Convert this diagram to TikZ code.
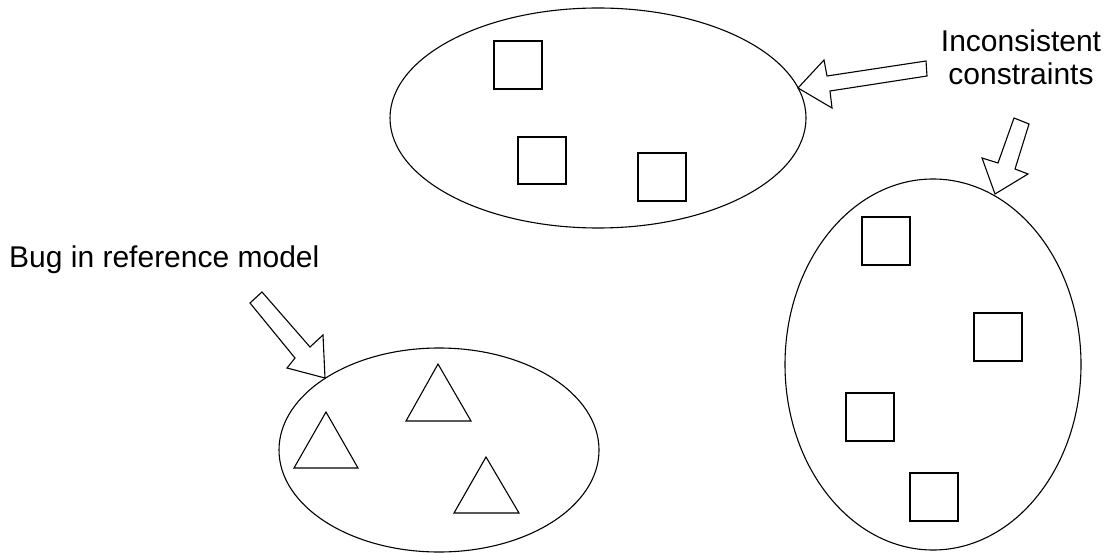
\documentclass[tikz,border=0pt]{standalone}
\usepackage{fontspec}
\setmainfont{Liberation Sans}
\begin{document}
\begin{tikzpicture}[x=1pt,y=-1pt,
  outline/.style={draw=black,line width=1.1pt},
  blob/.style={outline,ellipse,inner sep=0pt},
  sq/.style={outline},
  tri/.style={outline,line join=miter},
  blockarrow/.style={outline,line join=miter,fill=white},
  lbl/.style={font=\fontsize{30}{33}\selectfont,inner sep=0pt}]
\useasboundingbox (0,0) rectangle (1107,553);
% ellipses
\draw[outline] (598,118) ellipse [x radius=208, y radius=110];
\draw[outline] (933,364.5) ellipse [x radius=148, y radius=185.5];
\draw[outline] (439,450) ellipse [x radius=160, y radius=102];
\coordinate (topE) at (598,118);
% squares top
\draw[sq] (494,41) rectangle (542,89);
\draw[sq] (518,137) rectangle (566,184);
\draw[sq] (638,153) rectangle (686,201);
% squares right
\draw[sq] (862,217) rectangle (910,265);
\draw[sq] (974,313) rectangle (1022,361);
\draw[sq] (846,393) rectangle (894,441);
\draw[sq] (910,473) rectangle (958,521);
% triangles
\draw[tri] (438,364) -- (471,421) -- (406,421) -- cycle;
\draw[tri] (326,412) -- (358,468) -- (294,468) -- cycle;
\draw[tri] (486,457) -- (519,513) -- (454,513) -- cycle;
% block arrows
\draw[blockarrow] (798,88) -- (824,60) -- (827,76) -- (926,61) -- (927,76) -- (830,91) -- (832,108) -- cycle;
\draw[blockarrow] (995,194) -- (982,158) -- (998,163) -- (1014,118) -- (1029,124) -- (1015,169) -- (1028,174) -- cycle;
\draw[blockarrow] (325,378) -- (287,368) -- (295,358) -- (250,303) -- (262,292) -- (310,347) -- (323,335) -- cycle;
% labels
\node[lbl,anchor=base] (incA) at (1021,52) {Inconsistent};
\node[lbl,anchor=base] (incB) at (1021,85) {constraints};
\node[lbl,anchor=base west] (bug) at (9,267) {Bug in reference model};
\end{tikzpicture}
\end{document}
